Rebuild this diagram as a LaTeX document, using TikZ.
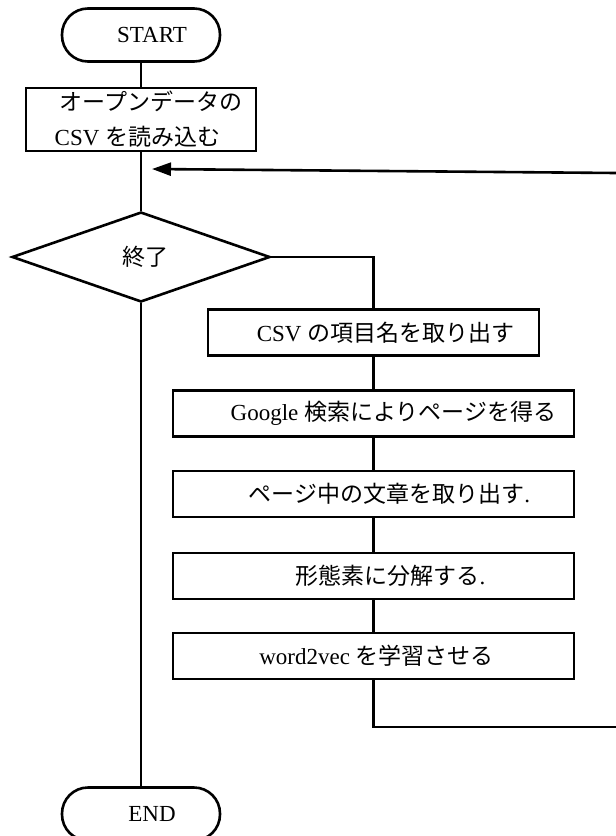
\documentclass[tikz,border=0pt]{standalone}
\usepackage{fontspec}
\setmainfont{Liberation Serif}
\newfontfamily\cjk{Noto Sans CJK JP}
\usetikzlibrary{shapes.geometric,arrows.meta}
\begin{document}
\begin{tikzpicture}[x=1pt,y=-1pt,
  line width=2.6pt,
  every node/.style={font=\fontsize{23}{35}\selectfont, inner sep=0pt},
  terminal/.style={draw, rectangle, rounded corners=26pt, minimum width=158pt, minimum height=53pt},
  procbox/.style={draw, rectangle, minimum height=46pt},
  decision/.style={draw, diamond, aspect=2.87, minimum width=258pt, minimum height=90pt},
  flow/.style={line width=2.6pt},
  backarrow/.style={line width=2.6pt, -{Triangle[length=19pt,width=13pt]}}
]
\useasboundingbox (0,0) rectangle (616,836);

\node[terminal] (start) at (141,35) {\hspace*{22pt}START};
\node[procbox, minimum width=230pt, minimum height=63pt, align=left] (read) at (141,119.5)
  {\hspace*{20pt}{\cjk オープンデータの}\\\hspace*{15pt}CSV {\cjk を読み込む}};
\node[decision] (cond) at (141,257) {\hspace*{8pt}{\cjk 終了}};

\node[procbox, minimum width=331pt] (s1) at (373.5,332.5) {\hspace*{24pt}CSV {\cjk の項目名を取り出す}};
\node[procbox, minimum width=401pt] (s2) at (373.5,413.5) {\hspace*{40pt}Google {\cjk 検索によりページを得る}};
\node[procbox, minimum width=401pt] (s3) at (373.5,494) {\hspace*{32pt}{\cjk ページ中の文章を取り出す}.};
\node[procbox, minimum width=401pt] (s4) at (373.5,576) {\hspace*{34pt}{\cjk 形態素に分解する}.};
\node[procbox, minimum width=401pt] (s5) at (373.5,656) {\hspace*{6pt}word2vec {\cjk を学習させる}};

\node[terminal] (end) at (141,814) {\hspace*{22pt}END};

\coordinate (loopin) at (616,173);
\coordinate (tip) at (152,169);
\coordinate (loopout) at (616,727);

\draw[flow] (start) -- (read);
\draw[flow] (read) -- (cond);
\draw[backarrow] (loopin) -- (tip);
\draw[flow] (cond.east) -| (s1.north);
\draw[flow] (s1) -- (s2);
\draw[flow] (s2) -- (s3);
\draw[flow] (s3) -- (s4);
\draw[flow] (s4) -- (s5);
\draw[flow] (s5.south) |- (loopout);
\draw[flow] (cond) -- (end);
\end{tikzpicture}
\end{document}
